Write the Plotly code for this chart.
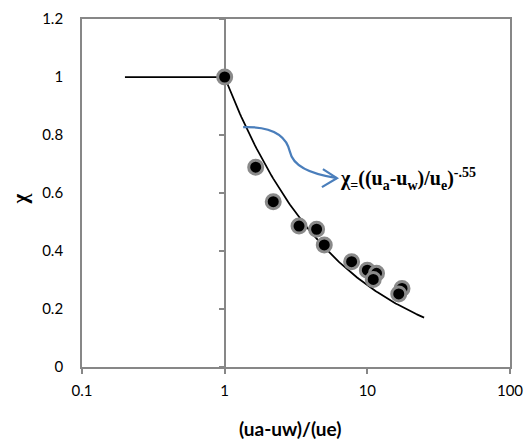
import numpy as np
import plotly.graph_objects as go

# Measured points: normalised suction (ua-uw)/(ue) against chi
suction_ratio = [1.0, 1.65, 2.19, 3.32, 4.41, 4.99, 7.76, 10.0, 11.6, 11.0, 17.5, 16.6]
chi_values = [1.0, 0.689, 0.570, 0.486, 0.475, 0.421, 0.363, 0.334, 0.323, 0.302, 0.271, 0.252]

# Fitted relation: chi = 1 below the air-entry value, chi = ratio^-0.55 above it
fit_exponent = -0.55
plateau_x = [0.2, 1.0]
plateau_y = [1.0, 1.0]
power_x = np.logspace(0, np.log10(25), 120)
power_y = power_x ** fit_exponent

x_tickvals = [0.1, 1, 10, 100]
x_ticktext = ["0.1", "1", "10", "100"]
y_tickvals = [0, 0.2, 0.4, 0.6, 0.8, 1.0, 1.2]
y_ticktext = ["0", "0.2", "0.4", "0.6", "0.8", "1", "1.2"]

AXIS_GREY = "#878787"
TICK_FONT = dict(family="Lato", size=15, color="#000000")

fig = go.Figure()

fit_x = np.concatenate([plateau_x, power_x[1:]])
fit_y = np.concatenate([plateau_y, power_y[1:]])
fig.add_trace(go.Scatter(
    x=fit_x, y=fit_y, mode="lines",
    line=dict(color="#000000", width=1.75),
    hoverinfo="skip", showlegend=False,
))

fig.add_trace(go.Scatter(
    x=suction_ratio, y=chi_values, mode="markers",
    marker=dict(size=14, color="#000000",
                line=dict(color="#8a8a8a", width=3)),
    showlegend=False,
))

# carrier trace for the secondary y axis drawn through x = 1
fig.add_trace(go.Scatter(
    x=[1], y=[1], yaxis="y2", mode="markers",
    marker=dict(opacity=0), hoverinfo="skip", showlegend=False,
))

fig.update_layout(
    width=527, height=441,
    margin=dict(l=81.5, r=16.5, t=19, b=74.3, autoexpand=False),
    paper_bgcolor="#ffffff", plot_bgcolor="#ffffff",
    showlegend=False,
    xaxis=dict(
        type="log", range=[-1, 2], automargin=False,
        tickvals=x_tickvals, ticktext=x_ticktext,
        ticks="outside", ticklen=5, tickwidth=1.5, tickcolor=AXIS_GREY,
        showline=True, linecolor=AXIS_GREY, linewidth=1.75, mirror=True,
        showgrid=False, zeroline=False,
        tickfont=TICK_FONT, ticklabelstandoff=4,
    ),
    yaxis=dict(
        range=[0, 1.2], automargin=False,
        tickvals=y_tickvals, ticktext=y_ticktext,
        ticks="", showline=True, linecolor=AXIS_GREY, linewidth=1.75,
        mirror=True, showgrid=False, zeroline=False,
        tickfont=TICK_FONT, ticklabelstandoff=14,
    ),
    yaxis2=dict(
        overlaying="y", anchor="free", position=1 / 3, side="left",
        range=[0, 1.2], tickvals=y_tickvals, automargin=False,
        ticks="outside", ticklen=5, tickwidth=1.5, tickcolor=AXIS_GREY,
        showticklabels=False, showline=True, linecolor=AXIS_GREY,
        linewidth=1.75, showgrid=False, zeroline=False,
        layer="below traces",
    ),
)

# axis titles
fig.add_annotation(
    text="<b>(ua-uw)/(ue)</b>", xref="paper", yref="paper",
    x=0.486, y=-0.178, xanchor="center", yanchor="middle",
    showarrow=False, font=dict(family="Lato", size=19, color="#000000"),
)
fig.add_annotation(
    text="<b>χ</b>", xref="paper", yref="paper",
    x=-0.146, y=0.483, xanchor="center", yanchor="middle", textangle=-90,
    showarrow=False,
    font=dict(family="Liberation Serif", size=21, color="#000000"),
)

# fitted equation with a curved pointer to the curve
fig.add_annotation(
    text="<b>χ<sub>=</sub>((u<sub>a</sub>-u<sub>w</sub>)/u<sub>e</sub>)<sup>-.55</sup></b>",
    xref="paper", yref="paper", x=0.597, y=0.540,
    xanchor="left", yanchor="middle", showarrow=False,
    font=dict(family="Liberation Serif", size=20, color="#000000"),
)
ARROW_BLUE = "#4a7ebb"
fig.add_shape(
    type="path", xref="paper", yref="paper",
    path=("M 0.3765 0.6894 C 0.4510 0.6923 0.4790 0.6577 0.4860 0.6175 "
          "C 0.4930 0.5772 0.5326 0.5542 0.5956 0.5427"),
    line=dict(color=ARROW_BLUE, width=2.25),
)
fig.add_shape(
    type="path", xref="paper", yref="paper",
    path="M 0.5629 0.5686 L 0.5956 0.5427 L 0.5606 0.5169",
    line=dict(color=ARROW_BLUE, width=2.25),
)

fig.write_html("out.html")
